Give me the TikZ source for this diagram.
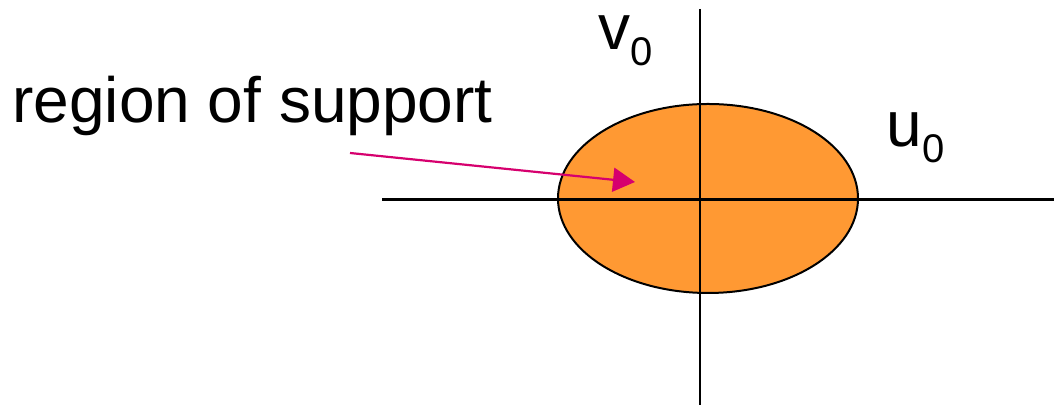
\documentclass[tikz,border=0pt]{standalone}
\usepackage{fontspec}
\setmainfont{Liberation Sans}
\usetikzlibrary{arrows.meta,shapes.geometric}
\definecolor{supportorange}{RGB}{255,153,51}
\definecolor{pointermagenta}{RGB}{214,0,110}

\begin{document}
\begin{tikzpicture}[x=0.5pt,y=0.5pt,>=Stealth]
		\useasboundingbox (0,0) rectangle (1054,405);
		\tikzset{lbl/.style={inner sep=0pt,anchor=base west,font=\fontsize{32}{38}\selectfont}}
		\node[draw=black,fill=supportorange,ellipse,line width=1pt,minimum width=150pt,minimum height=94.5pt,inner sep=0pt] (roi) at (708,206.5) {};
		\coordinate (hl) at (382,205.5);
		\coordinate (hr) at (1054,205.5);
		\coordinate (vt) at (700,396);
		\coordinate (vb) at (700,0);
		\draw[line width=1.1pt] (hl)--(hr);
		\draw[line width=1.1pt] (vt)--(vb);
		\node[lbl] (vlab) at (598,355) {v\raisebox{-8pt}{\fontsize{20}{22}\selectfont 0}};
		\node[lbl] (ulab) at (886,258) {u\raisebox{-8pt}{\fontsize{20}{22}\selectfont 0}};
		\node[lbl] (rlab) at (12,282) {region of support};
		\coordinate (ptail) at (350,252);
		\coordinate (ptip) at (635,223);
		\draw[pointermagenta,line width=1.1pt,arrows={-Triangle[length=11pt,width=12pt]}] (ptail)--(ptip);
\end{tikzpicture}
\end{document}
